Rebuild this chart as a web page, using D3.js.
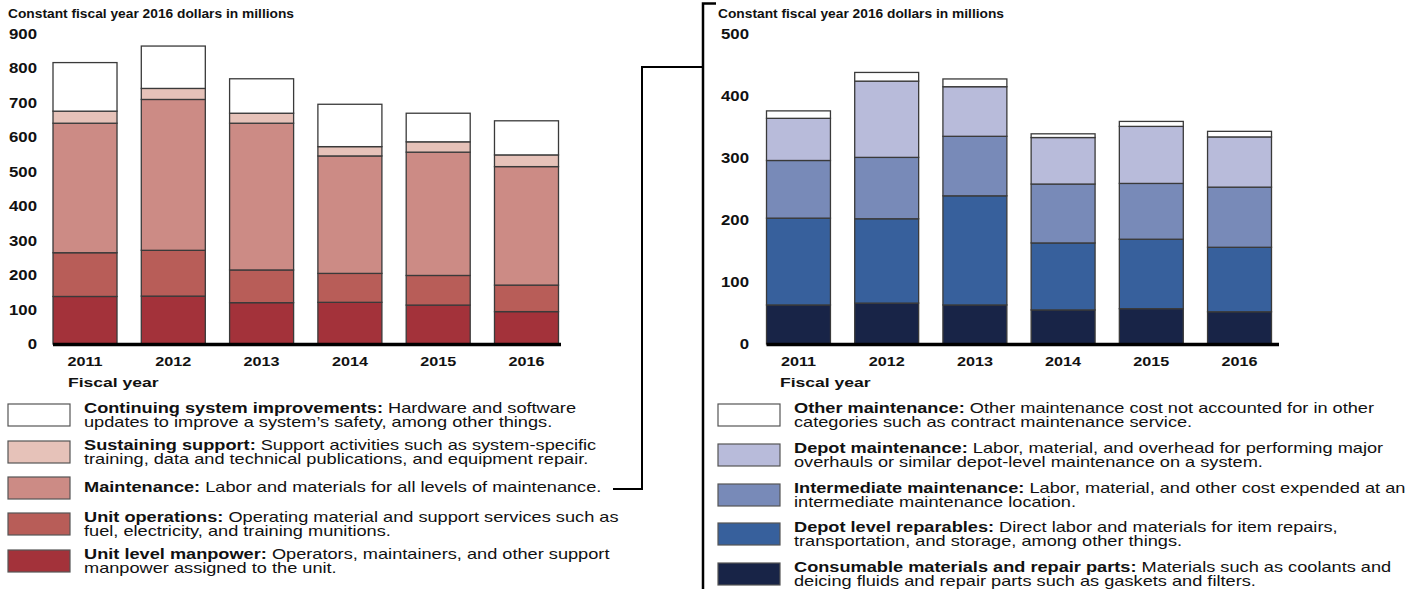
<!DOCTYPE html>
<html>
<head>
<meta charset="utf-8">
<script src="https://cdn.jsdelivr.net/npm/d3@7"></script>
<style>
  body { margin: 0; background: #fff; }
  svg { display: block; font-family: "Liberation Sans", Arial, Helvetica, sans-serif; }
</style>
</head>
<body>
<script>
// Fiscal years on the x axis
var years = ["2011", "2012", "2013", "2014", "2015", "2016"];

// Left chart - O&S cost elements, bottom to top (millions)
var unitManpower       = [138, 139, 120, 121, 113, 94];
var unitOperations     = [127, 133, 95, 84, 86, 77];
var maintenance        = [376, 438, 426, 341, 358, 344];
var sustainingSupport  = [35, 32, 29, 27, 30, 34];
var systemImprovements = [141, 123, 100, 123, 83, 99];
var leftTicks = [0, 100, 200, 300, 400, 500, 600, 700, 800, 900];

// Right chart - maintenance breakdown, bottom to top (millions)
var consumables       = [63, 66, 63, 55, 57, 52];
var depotReparables   = [140, 136, 176, 108, 112, 104];
var intermediateMaint = [93, 99, 96, 95, 90, 97];
var depotMaint        = [68, 123, 80, 75, 92, 81];
var otherMaint        = [12, 14, 12.5, 6, 8, 9];
var rightTicks = [0, 100, 200, 300, 400, 500];

var leftColors  = ["#a3323a", "#b85d58", "#cc8b85", "#e6c2b9", "#ffffff"];
var rightColors = ["#182447", "#37609c", "#788ab8", "#b8bbda", "#ffffff"];

// legend text, top to bottom (bold label, then description lines)
var leftLegend = [
  ["Continuing system improvements:", " Hardware and software", "updates to improve a system\u2019s safety, among other things."],
  ["Sustaining support:", " Support activities such as system-specific", "training, data and technical publications, and equipment repair."],
  ["Maintenance:", " Labor and materials for all levels of maintenance."],
  ["Unit operations:", " Operating material and support services such as", "fuel, electricity, and training munitions."],
  ["Unit level manpower:", " Operators, maintainers, and other support", "manpower assigned to the unit."]
];
var rightLegend = [
  ["Other maintenance:", " Other maintenance cost not accounted for in other", "categories such as contract maintenance service."],
  ["Depot maintenance:", " Labor, material, and overhead for performing major", "overhauls or similar depot-level maintenance on a system."],
  ["Intermediate maintenance:", " Labor, material, and other cost expended at an", "intermediate maintenance location."],
  ["Depot level reparables:", " Direct labor and materials for item repairs,", "transportation, and storage, among other things."],
  ["Consumable materials and repair parts:", " Materials such as coolants and", "deicing fluids and repair parts such as gaskets and filters."]
];

var width = 1421, height = 589;
var svg = d3.select("body").append("svg")
    .attr("width", width)
    .attr("height", height);

function drawChart(opt) {
  var g = svg.append("g");
  var keys = d3.range(opt.series.length);
  var rows = years.map(function (yr, i) {
    var r = { year: yr };
    opt.series.forEach(function (s, k) { r[k] = s[i]; });
    return r;
  });
  var stacked = d3.stack().keys(keys)(rows);

  var x = d3.scaleBand().domain(years).range(opt.xRange).paddingInner(0.275).paddingOuter(0);
  var y = d3.scaleLinear().domain([0, d3.max(opt.ticks)]).range([344, 34]);

  g.append("text")
      .attr("transform", "translate(" + opt.titleX + ",18) scale(1.02,1)")
      .attr("font-size", 13.5).attr("font-weight", "bold").attr("fill", "#111")
      .text("Constant fiscal year 2016 dollars in millions");

  // y axis labels only
  var yAxis = g.append("g")
      .attr("transform", "translate(" + opt.yAxisX + ",0)")
      .call(d3.axisLeft(y).tickValues(opt.ticks).tickSize(0).tickPadding(0));
  yAxis.select(".domain").remove();
  yAxis.selectAll("text")
      .attr("font-size", 14).attr("font-weight", "bold").attr("fill", "#111")
      .attr("font-family", "Liberation Sans, Arial, sans-serif")
      .attr("transform", "scale(1.2,1)");

  // stacked bars
  g.append("g").selectAll("g")
    .data(stacked)
    .join("g")
      .attr("fill", function (d, k) { return opt.colors[k]; })
    .selectAll("rect")
    .data(function (d) { return d; })
    .join("rect")
      .attr("x", function (d) { return x(d.data.year); })
      .attr("y", function (d) { return y(d[1]); })
      .attr("width", x.bandwidth())
      .attr("height", function (d) { return y(d[0]) - y(d[1]); })
      .attr("stroke", "#3a3a3a")
      .attr("stroke-width", 1.3);

  // heavy baseline
  g.append("line")
      .attr("x1", opt.xRange[0]).attr("x2", opt.baseEnd)
      .attr("y1", y(0) + 0.5).attr("y2", y(0) + 0.5)
      .attr("stroke", "#000").attr("stroke-width", 3.5);

  var xAxis = g.append("g")
      .attr("transform", "translate(0,344)")
      .call(d3.axisBottom(x).tickSize(0).tickPadding(12));
  xAxis.select(".domain").remove();
  xAxis.selectAll("text")
      .attr("font-size", 13.5).attr("font-weight", "bold").attr("fill", "#111")
      .attr("font-family", "Liberation Sans, Arial, sans-serif")
      .attr("transform", "scale(1.2,1)");

  g.append("text")
      .attr("transform", "translate(" + opt.fiscalX + ",387) scale(1.3,1)")
      .attr("font-size", 13.5).attr("font-weight", "bold").attr("fill", "#111")
      .text("Fiscal year");

  // legend, drawn top to bottom (series are stored bottom to top)
  var lg = g.append("g");
  opt.legend.forEach(function (item, i) {
    var top = opt.legendTops[i];
    var k = opt.series.length - 1 - i;
    lg.append("rect")
        .attr("x", opt.legendX).attr("y", top)
        .attr("width", 62).attr("height", 22)
        .attr("fill", opt.colors[k])
        .attr("stroke", "#555").attr("stroke-width", 1.2);
    // single-line entries sit in the middle of their swatch
    var base = item[2] ? top + 9 : top + 15;
    var t = lg.append("text")
        .attr("transform", "translate(" + (opt.legendX + 76) + "," + base + ") scale(1.3,1)")
        .attr("font-size", 14).attr("fill", "#111");
    var first = t.append("tspan").attr("x", 0).attr("y", 0);
    first.append("tspan").attr("font-weight", "bold").text(item[0]);
    first.append("tspan").text(item[1]);
    if (item[2]) {
      t.append("tspan").attr("x", 0).attr("y", 14.5).text(item[2]);
    }
  });
}

drawChart({
  series: [unitManpower, unitOperations, maintenance, sustainingSupport, systemImprovements],
  colors: leftColors,
  ticks: leftTicks,
  xRange: [53, 558.5],
  baseEnd: 561,
  yAxisX: 37,
  titleX: 8,
  fiscalX: 68,
  legend: leftLegend,
  legendX: 8,
  legendTops: [404, 441, 477, 513, 550]
});

drawChart({
  series: [consumables, depotReparables, intermediateMaint, depotMaint, otherMaint],
  colors: rightColors,
  ticks: rightTicks,
  xRange: [766.5, 1271.5],
  baseEnd: 1279,
  yAxisX: 749,
  titleX: 718,
  fiscalX: 780,
  legend: rightLegend,
  legendX: 718,
  legendTops: [404, 444, 484, 523, 563]
});

// bracket that ties the Maintenance element to the right-hand breakdown
svg.append("path")
    .attr("d", "M613,489H642V67H703")
    .attr("fill", "none").attr("stroke", "#000").attr("stroke-width", 2);
svg.append("path")
    .attr("d", "M716,3.5H703V589")
    .attr("fill", "none").attr("stroke", "#000").attr("stroke-width", 2.5);
</script>
</body>
</html>
